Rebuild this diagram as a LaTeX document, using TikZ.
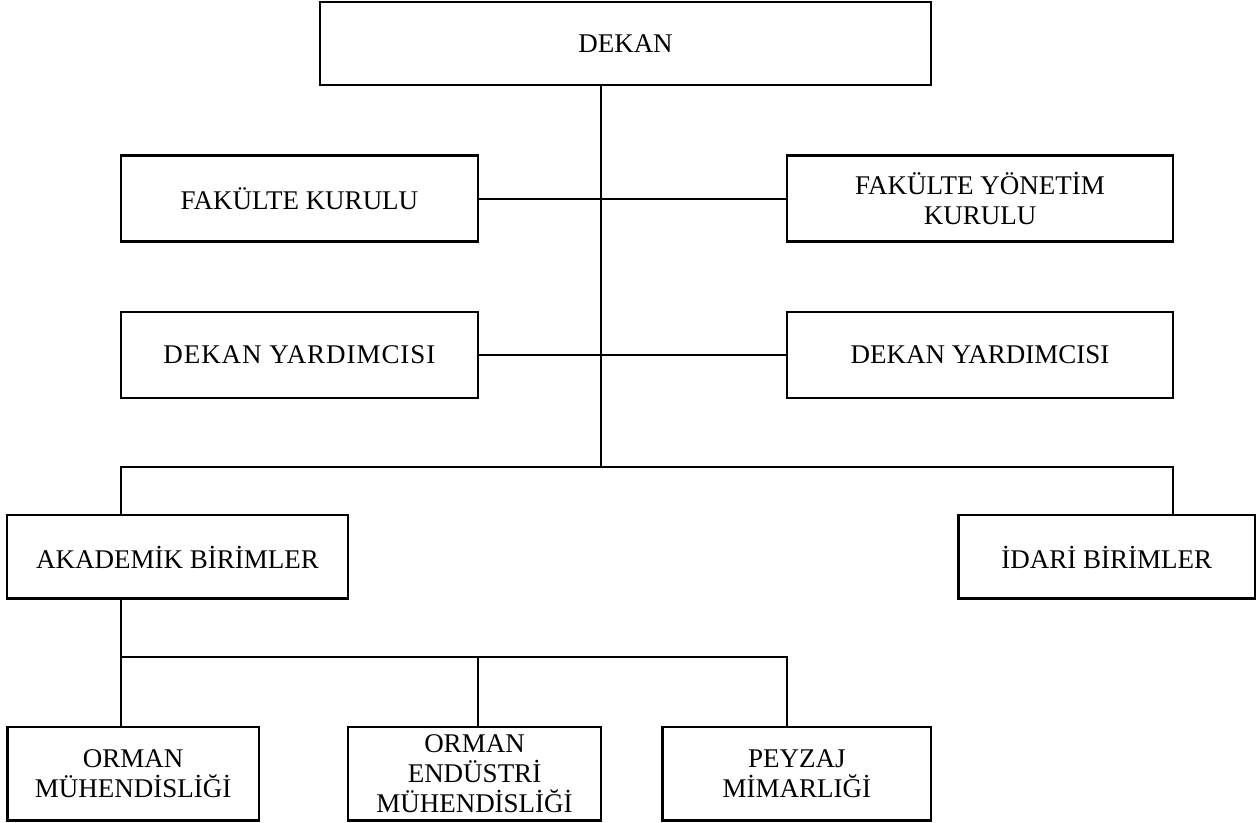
\documentclass[tikz,border=0pt]{standalone}
\usepackage{fontspec}
\setmainfont{Liberation Serif}

\begin{document}
\begin{tikzpicture}[x=0.5pt,y=-0.5pt,
  unit/.style={draw,line width=1.3pt,inner sep=0pt,align=center,font=\fontsize{13.5}{15}\selectfont},
  link/.style={line width=1.1pt}]
\useasboundingbox (0,0) rectangle (1257,823);
%\draw[help lines] (0,0) grid[step=50] (1257,823);
\node[unit,minimum width=305.5pt,minimum height=41.5pt] (dekan) at (625.5,43.5) {DEKAN};
\node[unit,minimum width=178.6pt,minimum height=43pt] (fk) at (299.4,198.7) {FAKÜLTE KURULU};
\node[unit,minimum width=193.1pt,minimum height=43pt] (fyk) at (980,198.7) {FAKÜLTE YÖNETİM\\KURULU};
\node[unit,minimum width=178.6pt,minimum height=43pt] (dy1) at (299.4,355) {\addfontfeature{LetterSpace=3.5}DEKAN YARDIMCISI};
\node[unit,minimum width=193.1pt,minimum height=43pt] (dy2) at (980,355) {DEKAN YARDIMCISI};
\node[unit,minimum width=170.5pt,minimum height=41.8pt] (aka) at (177.5,556.9) {AKADEMİK BİRİMLER};
\node[unit,minimum width=148.1pt,minimum height=41.8pt] (idari) at (1106.7,556.9) {İDARİ BİRİMLER};
\node[unit,minimum width=125.8pt,minimum height=46.8pt] (om) at (133.1,773.8) {ORMAN\\MÜHENDİSLİĞİ};
\node[unit,minimum width=126.5pt,minimum height=46.8pt] (oem) at (474.5,773.8) {ORMAN\\ENDÜSTRİ\\MÜHENDİSLİĞİ};
\node[unit,minimum width=134.1pt,minimum height=46.8pt] (pm) at (796.8,773.8) {PEYZAJ\\MİMARLIĞİ};

\coordinate (top) at (601,467);
\coordinate (aL) at (120.7,467);
\coordinate (aR) at (1172.7,467);
\coordinate (bL) at (120.7,656.7);
\coordinate (bM) at (478,656.7);
\coordinate (bR) at (786.7,656.7);

\draw[link] (dekan.south -| top) -- (top);
\draw[link] (fk.east) -- (fyk.west);
\draw[link] (dy1.east) -- (dy2.west);
\draw[link] (aL |- aka.north) -- (aL) -- (aR) -- (aR |- idari.north);
\draw[link] (aL |- aka.south) -- (bL) -- (bR) -- (bR |- pm.north);
\draw[link] (bL) -- (bL |- om.north);
\draw[link] (bM) -- (bM |- oem.north);
\end{tikzpicture}
\end{document}
